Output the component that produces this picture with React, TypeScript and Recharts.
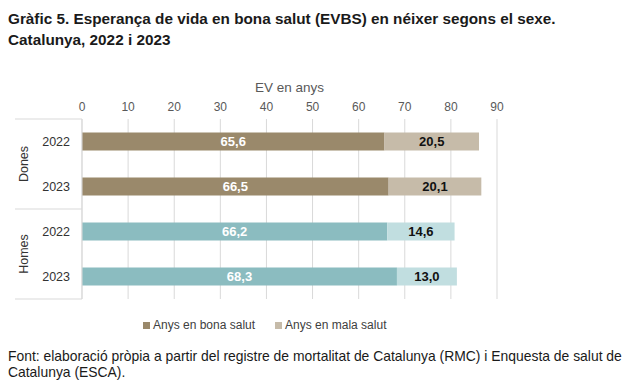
import React from "react";
import {
  BarChart,
  Bar,
  XAxis,
  YAxis,
  CartesianGrid,
  Cell,
  LabelList,
} from "recharts";

const groups = ["Dones", "Dones", "Homes", "Homes"];
const years = ["2022", "2023", "2022", "2023"];
const bonaSalut = [65.6, 66.5, 66.2, 68.3];
const malaSalut = [20.5, 20.1, 14.6, 13.0];
const xTicks = [0, 10, 20, 30, 40, 50, 60, 70, 80, 90];
const legendNames = ["Anys en bona salut", "Anys en mala salut"];

const colors: Record<string, { good: string; bad: string }> = {
  Dones: { good: "#9A896B", bad: "#C6BBA9" },
  Homes: { good: "#8BBCC0", bad: "#C1DEE0" },
};

const data = years.map((year, i) => ({
  key: `${groups[i]}-${year}`,
  year,
  group: groups[i],
  good: bonaSalut[i],
  bad: malaSalut[i],
}));

const W = 640;
const H = 388;
const margin = { top: 89, right: 143, bottom: 89, left: 15 };
const xAxisH = 30;
const plotH = H - margin.top - margin.bottom - xAxisH;
const band = plotH / data.length;

const font = "'Liberation Sans', Arial, sans-serif";
const fmt = (v: any) => Number(v).toFixed(1).replace(".", ",");

const YearTick = (props: any) => {
  const { x, y, index } = props;
  const row = data[index];
  const first = index === 0 || data[index - 1].group !== row.group;
  const last = index === data.length - 1;
  const nextSame = !last && data[index + 1].group === row.group;
  const left = margin.left;
  const right = margin.left + 67;
  return (
    <g>
      <text x={x} y={y} dy={4} textAnchor="end" fontSize={12.5} fill="#333" fontFamily={font}>
        {row.year}
      </text>
      {first && (
        <line x1={left} x2={right} y1={y - band / 2} y2={y - band / 2} stroke="#d9d9d9" />
      )}
      {first && nextSame && (
        <text
          x={left + 9}
          y={y + band / 2}
          transform={`rotate(-90, ${left + 9}, ${y + band / 2})`}
          textAnchor="middle"
          dy={4}
          fontSize={12.5}
          fill="#333"
          fontFamily={font}
        >
          {row.group}
        </text>
      )}
      {last && (
        <line x1={left} x2={right} y1={y + band / 2} y2={y + band / 2} stroke="#d9d9d9" />
      )}
    </g>
  );
};

export default function App() {
  return (
    <div
      style={{
        position: "absolute",
        left: 0,
        top: 0,
        width: W,
        height: H,
        background: "#fff",
        fontFamily: font,
        overflow: "hidden",
      }}
    >
      <BarChart
        width={W}
        height={H}
        data={data}
        layout="vertical"
        margin={margin}
        barCategoryGap="30%"
      >
        <CartesianGrid horizontal={false} stroke="#d9d9d9" />
        <XAxis
          type="number"
          orientation="top"
          domain={[0, 90]}
          ticks={xTicks}
          height={xAxisH}
          axisLine={false}
          tickLine={false}
          tick={{ fontSize: 12, fill: "#595959", fontFamily: font }}
          label={{
            value: "EV en anys",
            position: "top",
            offset: -3,
            fontSize: 13.5,
            fill: "#595959",
            fontFamily: font,
          }}
        />
        <YAxis
          type="category"
          dataKey="key"
          width={67}
          axisLine={{ stroke: "#d9d9d9" }}
          tickLine={false}
          tickSize={0}
          tickMargin={12}
          tick={<YearTick />}
          interval={0}
        />
        <Bar dataKey="good" stackId="a" isAnimationActive={false}>
          {data.map((d) => (
            <Cell key={d.key} fill={colors[d.group].good} />
          ))}
          <LabelList
            dataKey="good"
            position="center"
            formatter={fmt}
            fill="#fff"
            fontSize={13}
            fontWeight="bold"
            fontFamily={font}
          />
        </Bar>
        <Bar dataKey="bad" stackId="a" isAnimationActive={false}>
          {data.map((d) => (
            <Cell key={d.key} fill={colors[d.group].bad} />
          ))}
          <LabelList
            dataKey="bad"
            position="center"
            formatter={fmt}
            fill="#111"
            fontSize={13}
            fontWeight="bold"
            fontFamily={font}
          />
        </Bar>
      </BarChart>

      <div
        style={{
          position: "absolute",
          left: 8,
          top: 8,
          fontSize: 15.3,
          fontWeight: "bold",
          lineHeight: "21px",
          color: "#1a1a1a",
        }}
      >
        Gràfic 5. Esperança de vida en bona salut (EVBS) en néixer segons el sexe.
        <br />
        Catalunya, 2022 i 2023
      </div>

      <div
        style={{
          position: "absolute",
          left: 143,
          top: 317,
          display: "flex",
          fontSize: 12,
          color: "#404040",
          lineHeight: "16px",
        }}
      >
        {legendNames.map((name, i) => (
          <div key={name} style={{ display: "flex", alignItems: "center", marginRight: 20 }}>
            <span
              style={{
                display: "inline-block",
                width: 7,
                height: 7,
                marginRight: 3,
                background: i === 0 ? colors.Dones.good : colors.Dones.bad,
              }}
            />
            {name}
          </div>
        ))}
      </div>

      <div
        style={{
          position: "absolute",
          left: 8,
          top: 348,
          width: 625,
          fontSize: 13.9,
          lineHeight: "16px",
          color: "#1a1a1a",
        }}
      >
        Font: elaboració pròpia a partir del registre de mortalitat de Catalunya (RMC) i Enquesta de salut de
        Catalunya (ESCA).
      </div>
    </div>
  );
}
